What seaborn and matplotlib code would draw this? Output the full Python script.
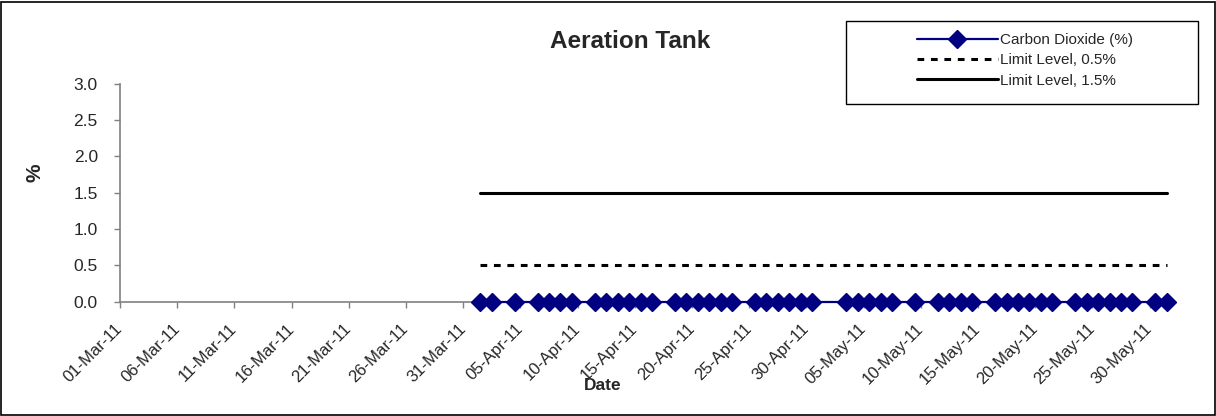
import matplotlib
matplotlib.use("Agg")
import matplotlib.pyplot as plt
import matplotlib.dates as mdates
from matplotlib.patches import Rectangle
import pandas as pd
import seaborn as sns

# ---------------- data ----------------
sample_dates = [
    "2011-04-01", "2011-04-02", "2011-04-04", "2011-04-06", "2011-04-07",
    "2011-04-08", "2011-04-09", "2011-04-11", "2011-04-12", "2011-04-13",
    "2011-04-14", "2011-04-15", "2011-04-16", "2011-04-18", "2011-04-19",
    "2011-04-20", "2011-04-21", "2011-04-22", "2011-04-23", "2011-04-25",
    "2011-04-26", "2011-04-27", "2011-04-28", "2011-04-29", "2011-04-30",
    "2011-05-03", "2011-05-04", "2011-05-05", "2011-05-06", "2011-05-07",
    "2011-05-09", "2011-05-11", "2011-05-12", "2011-05-13", "2011-05-14",
    "2011-05-16", "2011-05-17", "2011-05-18", "2011-05-19", "2011-05-20",
    "2011-05-21", "2011-05-23", "2011-05-24", "2011-05-25", "2011-05-26",
    "2011-05-27", "2011-05-28", "2011-05-30", "2011-05-31",
]
co2_percent = [
    0.0, 0.0, 0.0, 0.0, 0.0, 0.0, 0.0, 0.0, 0.0, 0.0,
    0.0, 0.0, 0.0, 0.0, 0.0, 0.0, 0.0, 0.0, 0.0, 0.0,
    0.0, 0.0, 0.0, 0.0, 0.0, 0.0, 0.0, 0.0, 0.0, 0.0,
    0.0, 0.0, 0.0, 0.0, 0.0, 0.0, 0.0, 0.0, 0.0, 0.0,
    0.0, 0.0, 0.0, 0.0, 0.0, 0.0, 0.0, 0.0, 0.0,
]
limit_05 = [
    0.5, 0.5, 0.5, 0.5, 0.5, 0.5, 0.5, 0.5, 0.5, 0.5,
    0.5, 0.5, 0.5, 0.5, 0.5, 0.5, 0.5, 0.5, 0.5, 0.5,
    0.5, 0.5, 0.5, 0.5, 0.5, 0.5, 0.5, 0.5, 0.5, 0.5,
    0.5, 0.5, 0.5, 0.5, 0.5, 0.5, 0.5, 0.5, 0.5, 0.5,
    0.5, 0.5, 0.5, 0.5, 0.5, 0.5, 0.5, 0.5, 0.5,
]
limit_15 = [
    1.5, 1.5, 1.5, 1.5, 1.5, 1.5, 1.5, 1.5, 1.5, 1.5,
    1.5, 1.5, 1.5, 1.5, 1.5, 1.5, 1.5, 1.5, 1.5, 1.5,
    1.5, 1.5, 1.5, 1.5, 1.5, 1.5, 1.5, 1.5, 1.5, 1.5,
    1.5, 1.5, 1.5, 1.5, 1.5, 1.5, 1.5, 1.5, 1.5, 1.5,
    1.5, 1.5, 1.5, 1.5, 1.5, 1.5, 1.5, 1.5, 1.5,
]
series_names = ["Carbon Dioxide (%)", "Limit Level, 0.5%", "Limit Level, 1.5%"]
y_ticks = [0.0, 0.5, 1.0, 1.5, 2.0, 2.5, 3.0]
x_start, x_end = "2011-03-01", "2011-06-01"
x_tick_start, x_tick_end = "2011-03-01", "2011-05-30"

# ---------------- style ----------------
sns.set_style("white")
plt.rcParams["font.family"] = ["Liberation Sans", "DejaVu Sans"]

fig = plt.figure(figsize=(12.16, 4.16), dpi=100)
ax = fig.add_axes([120 / 1216, 1 - 301.7 / 416, (1172.5 - 120) / 1216, (301.7 - 83.7) / 416])

# Excel places date points in the middle of each day slot
x_dates = pd.to_datetime(sample_dates) + pd.Timedelta(hours=12)
df = pd.DataFrame({"date": x_dates, "co2": co2_percent,
                   "lim05": limit_05, "lim15": limit_15})

navy = "#000080"
sns.lineplot(data=df, x="date", y="co2", ax=ax, color=navy, linewidth=1.6,
             marker="D", markersize=8.8, markeredgecolor=navy,
             markerfacecolor=navy, markeredgewidth=1, label=series_names[0],
             clip_on=False, zorder=5)
sns.lineplot(data=df, x="date", y="lim05", ax=ax, color="black", linewidth=2.2,
             linestyle=(0, (2.2, 2.2)), label=series_names[1])
sns.lineplot(data=df, x="date", y="lim15", ax=ax, color="black", linewidth=2.2,
             label=series_names[2])

ax.set_xlim(pd.Timestamp(x_start), pd.Timestamp(x_end))
ax.set_ylim(0, 3.0)
ax.set_yticks(y_ticks)
ax.set_yticklabels([f"{v:.1f}" for v in y_ticks])
ax.set_xticks(pd.date_range(x_tick_start, x_tick_end, freq="5D"))
ax.xaxis.set_major_formatter(mdates.DateFormatter("%d-%b-%y"))
ax.set_xlabel("")
ax.set_ylabel("")

grey = "#808080"
for side in ["top", "right"]:
    ax.spines[side].set_visible(False)
for side in ["left", "bottom"]:
    ax.spines[side].set_color(grey)
    ax.spines[side].set_linewidth(1.2)
ax.tick_params(axis="y", direction="out", length=4, width=1, color=grey,
               labelsize=12.5, pad=12, left=True)
ax.tick_params(axis="x", direction="out", length=4.5, width=1, color=grey,
               labelsize=12, pad=13, bottom=True)
plt.setp(ax.get_xticklabels(), rotation=45, ha="right", va="center",
         rotation_mode="anchor")
ax.grid(False)

ax.get_legend().remove()
handles, labels = ax.get_legend_handles_labels()
fig.legend(handles, labels, loc="upper left",
           bbox_to_anchor=(917 / 1216, 1 - 33 / 416), frameon=False,
           fontsize=11, handlelength=5.3, handletextpad=0.15,
           labelspacing=0.42, borderpad=0, borderaxespad=0)

# legend box and chart border
fig.patches.append(Rectangle((846 / 1216, 1 - 104 / 416), 352 / 1216, 83.3 / 416,
                             transform=fig.transFigure, fill=False,
                             edgecolor="black", linewidth=1))
fig.patches.append(Rectangle((1 / 1216, 1.5 / 416), 1213.5 / 1216, 413 / 416,
                             transform=fig.transFigure, fill=False,
                             edgecolor="black", linewidth=1.2))

fig.text(630 / 1216, 1 - 42 / 416, "Aeration Tank", ha="center", va="center",
         fontsize=17.5, fontweight="bold")
fig.text(35 / 1216, 1 - 173 / 416, "%", ha="center", va="center",
         rotation=90, fontsize=15, fontweight="bold")
fig.text(603 / 1216, 1 - 385 / 416, "Date", ha="center", va="center",
         fontsize=12.5, fontweight="bold")

fig.savefig("out.png", dpi=100)
